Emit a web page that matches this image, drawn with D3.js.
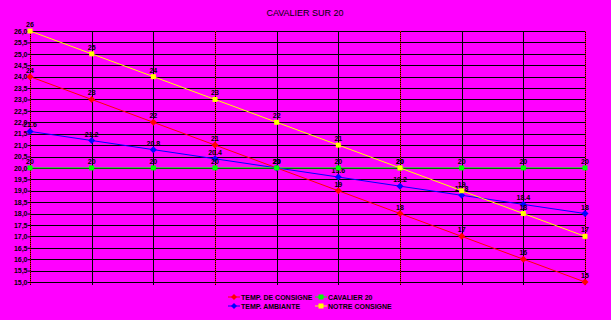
<!DOCTYPE html>
<html>
<head>
<meta charset="utf-8">
<script src="https://cdn.jsdelivr.net/npm/d3@7"></script>
<style>
body { margin:0; background:#ff00ff; }
text { font-family:"Liberation Sans", Arial, sans-serif; }
</style>
</head>
<body>
<script>
var categories = ["1","2","3","4","5","6","7","8","9","10"];
var consigne = [24,23,22,21,20,19,18,17,16,15];
var ambiante = [21.6,21.2,20.8,20.4,20,19.6,19.2,18.8,18.4,18];
var cavalier = [20,20,20,20,20,20,20,20,20,20];
var notre = [26,25,24,23,22,21,20,19,18,17];
var yTicks = d3.range(15, 26.01, 0.5);

var series = [
	{name:"TEMP. DE CONSIGNE", values:consigne, color:"#ff0000", shape:"diamond"},
	{name:"TEMP. AMBIANTE", values:ambiante, color:"#0000ff", shape:"diamond"},
	{name:"CAVALIER 20", values:cavalier, color:"#00ff00", shape:"square"},
	{name:"NOTRE CONSIGNE", values:notre, color:"#ffff00", shape:"square"}
];

var w = 611, h = 320;
var svg = d3.select("body").append("svg").attr("width",w).attr("height",h);
svg.append("rect").attr("width",w).attr("height",h).attr("fill","#ff00ff");

var x = d3.scalePoint().domain(categories).range([30,585]);
var y = d3.scaleLinear().domain([15,26]).range([282,31]);

svg.append("text").attr("x",305).attr("y",16).attr("text-anchor","middle")
	.style("font-size","9px").text("CAVALIER SUR 20");

// horizontal grid
svg.selectAll(".hg").data(yTicks).enter().append("line")
	.attr("x1",30).attr("x2",585)
	.attr("y1",function(d){ return Math.round(y(d))+0.5; })
	.attr("y2",function(d){ return Math.round(y(d))+0.5; })
	.attr("stroke","#000").attr("stroke-width",1);

// vertical grid
svg.selectAll(".vg").data(categories).enter().append("line")
	.attr("x1",function(d){ return Math.round(x(d))+0.5; })
	.attr("x2",function(d){ return Math.round(x(d))+0.5; })
	.attr("y1",31).attr("y2",285)
	.attr("stroke","#000").attr("stroke-width",1);
svg.selectAll(".vr").data(categories.filter(function(d,i){ return i%3==0; })).enter().append("line")
	.attr("x1",function(d){ return Math.round(x(d))+0.5; })
	.attr("x2",function(d){ return Math.round(x(d))+0.5; })
	.attr("y1",31).attr("y2",285)
	.attr("stroke","#ff0000").attr("stroke-width",1).attr("stroke-dasharray","1,1");

// y axis
var yAxis = d3.axisLeft(y).tickValues(yTicks).tickSize(3)
	.tickFormat(function(d){ return d3.format(".1f")(d).replace(".",","); });
var ga = svg.append("g").attr("transform","translate(30.5,0)").call(yAxis);
ga.select(".domain").remove();
ga.selectAll("line").attr("stroke","#000");
ga.selectAll("text").attr("x",-3).style("font-size","7px").style("font-weight","bold")
	.style("font-family","Liberation Sans, Arial").attr("fill","#000");

var line = d3.line().x(function(d,i){ return x(categories[i]); }).y(function(d){ return y(d); });

series.forEach(function(s){
	svg.append("path").datum(s.values).attr("d",line)
		.attr("fill","none").attr("stroke",s.color).attr("stroke-width",1);
	svg.selectAll(null).data(s.values).enter().append("path")
		.attr("transform",function(d,i){ return "translate("+x(categories[i])+","+y(d)+")"; })
		.attr("d", s.shape=="diamond" ? "M0,-3.5L3.5,0L0,3.5L-3.5,0Z" : "M-2.5,-2.5H2.5V2.5H-2.5Z")
		.attr("fill",s.color);
	svg.selectAll(null).data(s.values).enter().append("text")
		.attr("x",function(d,i){ return x(categories[i]); })
		.attr("y",function(d){ return y(d)-4; })
		.attr("text-anchor","middle").style("font-size","7px").style("font-weight","bold").attr("fill","#000")
		.text(function(d){ return d; });
});

// legend: two columns
var legPos = [[228,297],[228,306],[315,297],[315,306]];
series.forEach(function(s,k){
	var p = legPos[k];
	var g = svg.append("g").attr("transform","translate("+p[0]+","+p[1]+")");
	g.append("line").attr("x1",0).attr("x2",12).attr("stroke",s.color);
	g.append("path").attr("transform","translate(6,0)")
		.attr("d", s.shape=="diamond" ? "M0,-3L3,0L0,3L-3,0Z" : "M-2.5,-2.5H2.5V2.5H-2.5Z")
		.attr("fill",s.color);
	g.append("text").attr("x",13).attr("y",2.5).style("font-size","7px").style("font-weight","bold")
		.attr("fill","#000").text(s.name);
});
</script>
</body>
</html>
